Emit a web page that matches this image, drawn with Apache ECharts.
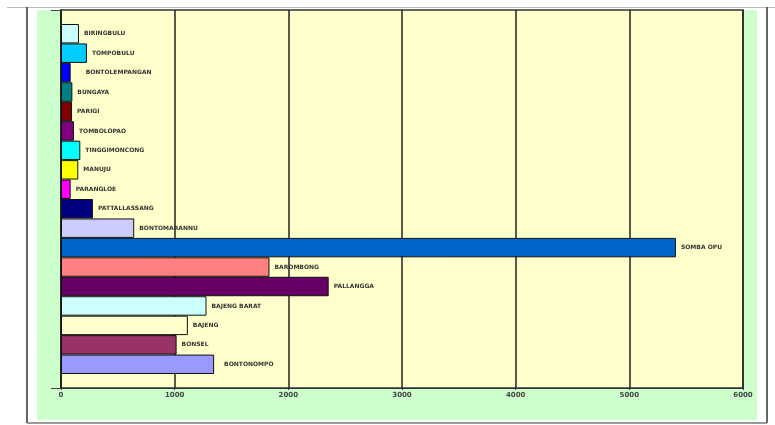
<!DOCTYPE html>
<html>
<head>
<meta charset="utf-8">
<script src="https://cdn.jsdelivr.net/npm/echarts@6/dist/echarts.min.js"></script>
<style>
  html, body { margin: 0; padding: 0; background: #fff; }
  #chart { width: 775px; height: 425px; }
</style>
</head>
<body>
<div id="chart"></div>
<script>
// districts, top to bottom (echarts stacks the first series of a horizontal group on top)
var districts = ['BIRINGBULU', 'TOMPOBULU', 'BONTOLEMPANGAN', 'BUNGAYA', 'PARIGI', 'TOMBOLOPAO',
  'TINGGIMONCONG', 'MANUJU', 'PARANGLOE', 'PATTALLASSANG', 'BONTOMARANNU', 'SOMBA OPU',
  'BAROMBONG', 'PALLANGGA', 'BAJENG BARAT', 'BAJENG', 'BONSEL', 'BONTONOMPO'];
var values = [158, 228, 85, 100, 97, 114,
  170, 152, 85, 281, 644, 5410,
  1834, 2355, 1280, 1116, 1017, 1347];
var xTicks = [0, 1000, 2000, 3000, 4000, 5000, 6000];

var colors = ['#CCFFFF', '#00CCFF', '#0000FF', '#008080', '#800000', '#800080',
  '#00FFFF', '#FFFF00', '#FF00FF', '#000080', '#CCCCFF', '#0066CC',
  '#FF8080', '#660066', '#CCFFFF', '#FFFFCC', '#993366', '#9999FF'];
// a couple of labels sit further from their bar
var labelDist = { 'BONTOLEMPANGAN': 15, 'BONTONOMPO': 10 };

var chart = echarts.init(document.getElementById('chart'));

var series = districts.map(function (name, i) {
  return {
    name: name,
    type: 'bar',
    barGap: '0%',
    barCategoryGap: '7.4%',
    data: [values[i]],
    itemStyle: { color: colors[i], borderColor: '#111', borderWidth: 1 },
    label: {
      show: true,
      position: 'right',
      distance: labelDist[name] || 5,
      formatter: '{a}',
      fontFamily: 'DejaVu Sans',
      fontWeight: 'bold',
      fontSize: 6,
      color: '#333'
    },
    silent: true,
    animation: false
  };
});

var option = {
  animation: false,
  grid: {
    left: 61, right: 32, top: 10, bottom: 37,
    show: true, backgroundColor: '#FFFFCC', borderWidth: 1.5, borderColor: '#333'
  },
  graphic: [
    { type: 'rect', z: -10, shape: { x: 37, y: 10, width: 720, height: 410 }, style: { fill: '#CCFFCC' } },
    { type: 'line', z: -5, shape: { x1: 7, y1: 7.5, x2: 775, y2: 7.5 }, style: { stroke: '#bbb', lineWidth: 1 } },
    { type: 'line', z: -5, shape: { x1: 27, y1: 7, x2: 27, y2: 423 }, style: { stroke: '#333', lineWidth: 1.5 } },
    { type: 'line', z: -5, shape: { x1: 767, y1: 7, x2: 767, y2: 423 }, style: { stroke: '#333', lineWidth: 1.5 } },
    { type: 'line', z: -5, shape: { x1: 27, y1: 423, x2: 767, y2: 423 }, style: { stroke: '#777', lineWidth: 1.5 } }
  ],
  xAxis: {
    type: 'value',
    min: xTicks[0],
    max: xTicks[xTicks.length - 1],
    interval: 1000,
    axisLine: { show: true, lineStyle: { color: '#333', width: 1 } },
    axisTick: { show: true, length: 2, lineStyle: { color: '#333' } },
    axisLabel: {
      margin: 4,
      formatter: function (v) { return String(v); },
      fontFamily: 'DejaVu Sans',
      fontWeight: 'bold',
      fontSize: 7,
      color: '#444'
    },
    splitLine: { show: true, lineStyle: { color: '#222', width: 1.5 } }
  },
  yAxis: {
    type: 'category',
    data: [''],
    axisLine: { show: true, onZero: false, lineStyle: { color: '#222', width: 1.5 } },
    axisTick: { show: true, length: 10, lineStyle: { color: '#444' } },
    axisLabel: { show: false }
  },
  series: series
};

chart.setOption(option);
</script>
</body>
</html>
